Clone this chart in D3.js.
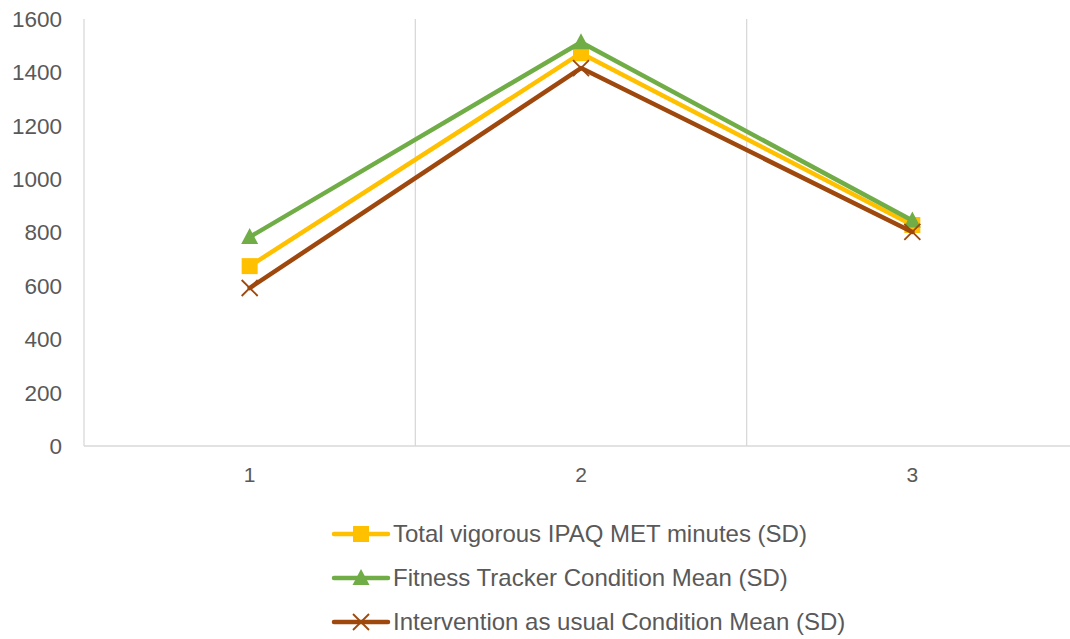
<!DOCTYPE html>
<html>
<head>
<meta charset="utf-8">
<script src="https://cdn.jsdelivr.net/npm/d3@7"></script>
<style>
  html, body { margin: 0; padding: 0; background: #fff; }
  svg { display: block; font-family: "Liberation Sans", Arial, sans-serif; }
</style>
</head>
<body>
<svg id="chart" width="1070" height="639"></svg>
<script>
// Time points on the x axis
const categories = ["1", "2", "3"];

// Series names and their values at each time point
const seriesNames = [
  "Total vigorous IPAQ MET minutes (SD)",
  "Fitness Tracker Condition Mean (SD)",
  "Intervention as usual Condition Mean (SD)"
];
const totalVigorous = [674, 1472, 828];
const fitnessTracker = [783, 1513, 845];
const interventionUsual = [592, 1416, 802];

// Y axis ticks
const yTicks = [0, 200, 400, 600, 800, 1000, 1200, 1400, 1600];

const series = [
  { name: seriesNames[0], values: totalVigorous, color: "#FFC000", marker: "square" },
  { name: seriesNames[1], values: fitnessTracker, color: "#70AD47", marker: "triangle" },
  { name: seriesNames[2], values: interventionUsual, color: "#9E480E", marker: "cross" }
];

const svg = d3.select("#chart");
const plot = { left: 84, right: 1078, top: 19, bottom: 446 };

const x = d3.scaleBand().domain(categories).range([plot.left, plot.right]);
const y = d3.scaleLinear().domain([0, 1600]).range([plot.bottom, plot.top]);

const gridColor = "#D9D9D9";
const textColor = "#595959";

// Vertical gridlines at category boundaries
const bounds = categories.map(c => x(c)).slice(1);
svg.append("g").selectAll("line").data(bounds).join("line")
  .attr("x1", d => d).attr("x2", d => d)
  .attr("y1", y(1600)).attr("y2", y(0))
  .attr("stroke", gridColor).attr("stroke-width", 1.3);

// Axis lines
svg.append("line")
  .attr("x1", plot.left).attr("x2", plot.left)
  .attr("y1", y(1600)).attr("y2", y(0))
  .attr("stroke", gridColor).attr("stroke-width", 1.3);
svg.append("line")
  .attr("x1", plot.left).attr("x2", 1070)
  .attr("y1", y(0)).attr("y2", y(0))
  .attr("stroke", gridColor).attr("stroke-width", 1.3);

// Y tick labels
svg.append("g").selectAll("text").data(yTicks).join("text")
  .attr("x", 62).attr("y", d => y(d))
  .attr("dy", "0.35em")
  .attr("text-anchor", "end")
  .attr("font-size", 22.5)
  .attr("fill", textColor)
  .text(d => d);

// X tick labels
svg.append("g").selectAll("text").data(categories).join("text")
  .attr("x", d => x(d) + x.bandwidth() / 2).attr("y", 475)
  .attr("dy", "0.35em")
  .attr("text-anchor", "middle")
  .attr("font-size", 21)
  .attr("fill", textColor)
  .text(d => d);

const cx = (c) => x(c) + x.bandwidth() / 2;

function drawMarker(g, type, color, px, py) {
  if (type === "square") {
    g.append("rect").attr("x", px - 8).attr("y", py - 8)
      .attr("width", 16).attr("height", 16).attr("fill", color);
  } else if (type === "triangle") {
    g.append("path")
      .attr("d", `M${px},${py - 9}L${px + 8.5},${py + 7}L${px - 8.5},${py + 7}Z`)
      .attr("fill", color);
  } else {
    g.append("path")
      .attr("d", `M${px - 8},${py - 8}L${px + 8},${py + 8}M${px + 8},${py - 8}L${px - 8},${py + 8}`)
      .attr("stroke", color).attr("stroke-width", 1.8).attr("fill", "none");
  }
}

const line = d3.line().x((d, i) => cx(categories[i])).y(d => y(d));

// Series lines and markers
series.forEach(s => {
  const g = svg.append("g");
  g.append("path").datum(s.values)
    .attr("d", line)
    .attr("fill", "none")
    .attr("stroke", s.color)
    .attr("stroke-width", 4.5)
    .attr("stroke-linejoin", "round")
    .attr("stroke-linecap", "round");
  s.values.forEach((v, i) => drawMarker(g, s.marker, s.color, cx(categories[i]), y(v)));
});

// Legend
const legend = svg.append("g");
series.forEach((s, i) => {
  const ly = 534 + i * 44;
  const g = legend.append("g");
  g.append("line").attr("x1", 334).attr("x2", 388).attr("y1", ly).attr("y2", ly)
    .attr("stroke", s.color).attr("stroke-width", 4.5).attr("stroke-linecap", "round");
  drawMarker(g, s.marker, s.color, 361, ly);
  g.append("text").attr("x", 393).attr("y", ly).attr("dy", "0.35em")
    .attr("font-size", 24).attr("fill", textColor).text(s.name);
});
</script>
</body>
</html>
